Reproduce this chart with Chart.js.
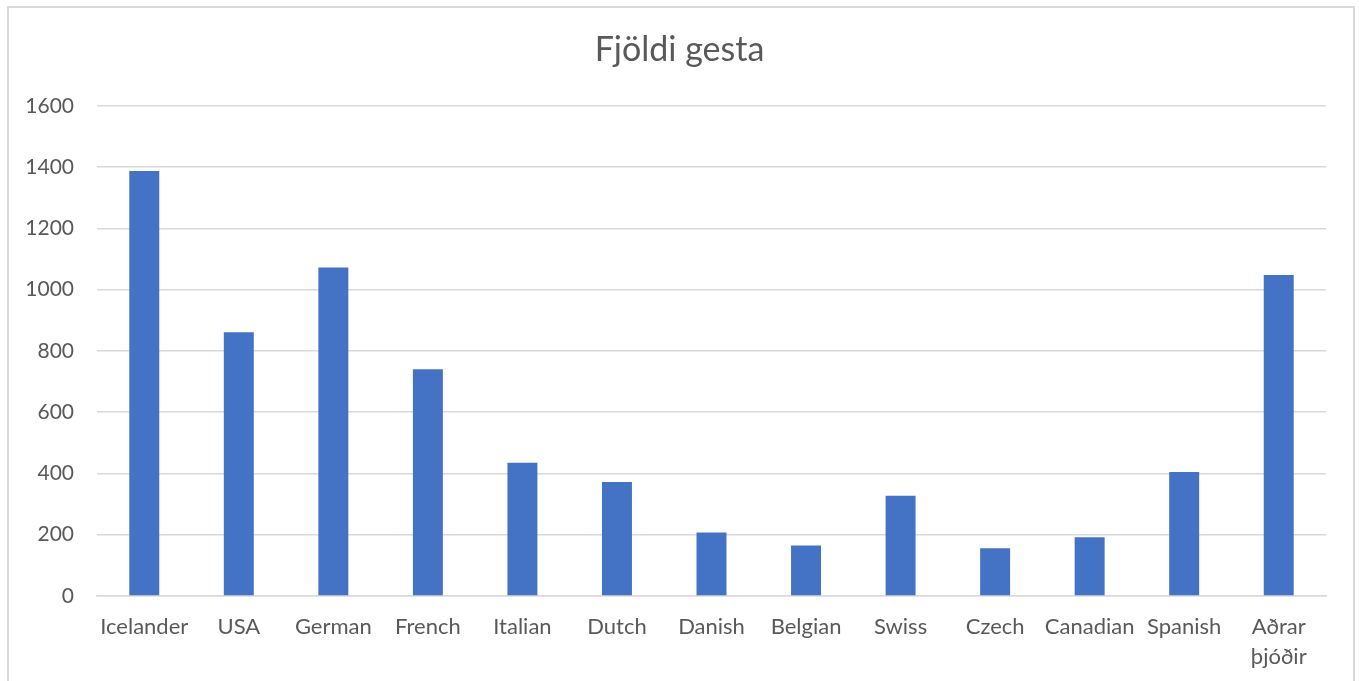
<!DOCTYPE html>
<html>
<head>
<meta charset="utf-8">
<script src="https://cdn.jsdelivr.net/npm/chart.js@4"></script>
<style>
  html, body { margin: 0; padding: 0; background: #ffffff; }
  #wrap { width: 1359px; height: 681px; position: relative; }
  canvas { display: block; }
</style>
</head>
<body>
<div id="wrap"><canvas id="c" width="1359" height="681"></canvas></div>
<script>
const chartTitle = 'Fjöldi gesta';
const categories = ['Icelander', 'USA', 'German', 'French', 'Italian', 'Dutch', 'Danish', 'Belgian', 'Swiss', 'Czech', 'Canadian', 'Spanish', ['Aðrar', 'þjóðir']];
const guests = [1387, 861, 1072, 740, 435, 372, 207, 165, 327, 156, 192, 405, 1048];
const yMin = 0;
const yMax = 1600;
const yStep = 200;

const FONT = 'Lato, "Open Sans", sans-serif';
const TEXT = '#595959';
const GRID = '#d9d9d9';

const borderPlugin = {
  id: 'outerBorder',
  beforeDraw(chart) {
    const ctx = chart.ctx;
    ctx.save();
    ctx.fillStyle = '#ffffff';
    ctx.fillRect(0, 0, chart.width, chart.height);
    ctx.strokeStyle = GRID;
    ctx.lineWidth = 2;
    ctx.strokeRect(8, 7, 1346, 700);
    ctx.restore();
  }
};

new Chart(document.getElementById('c'), {
  type: 'bar',
  data: {
    labels: categories,
    datasets: [{
      label: chartTitle,
      data: guests,
      backgroundColor: '#4472C4',
      borderWidth: 0,
      categoryPercentage: 1,
      barPercentage: 0.317
    }]
  },
  options: {
    responsive: false,
    animation: false,
    layout: { padding: { left: 0, right: 0, top: 0, bottom: 0 } },
    plugins: {
      legend: { display: false },
      tooltip: { enabled: false },
      title: {
        display: true,
        text: chartTitle,
        color: TEXT,
        font: { family: FONT, size: 34, weight: 'normal', lineHeight: 1.2 },
        padding: { top: 30, bottom: 35 }
      }
    },
    scales: {
      x: {
        grid: { display: false, drawTicks: false },
        border: { display: true, color: GRID, width: 1.5 },
        ticks: {
          color: TEXT,
          font: { family: FONT, size: 22, lineHeight: 1.36 },
          padding: 16,
          maxRotation: 0,
          minRotation: 0,
          autoSkip: false
        },
        afterFit(scale) { scale.height = 85; }
      },
      y: {
        min: yMin,
        max: yMax,
        grid: { color: GRID, lineWidth: 1.5, drawTicks: false },
        border: { display: false },
        ticks: {
          stepSize: yStep,
          color: TEXT,
          font: { family: FONT, size: 21 },
          padding: 23,
          callback: (v) => String(v)
        },
        afterFit(scale) { scale.width = 97; }
      },
      spacer: {
        type: 'linear',
        position: 'right',
        display: true,
        grid: { display: false, drawTicks: false },
        border: { display: false },
        ticks: { display: false },
        afterFit(scale) { scale.width = 33; }
      }
    }
  },
  plugins: [borderPlugin]
});
</script>
</body>
</html>
